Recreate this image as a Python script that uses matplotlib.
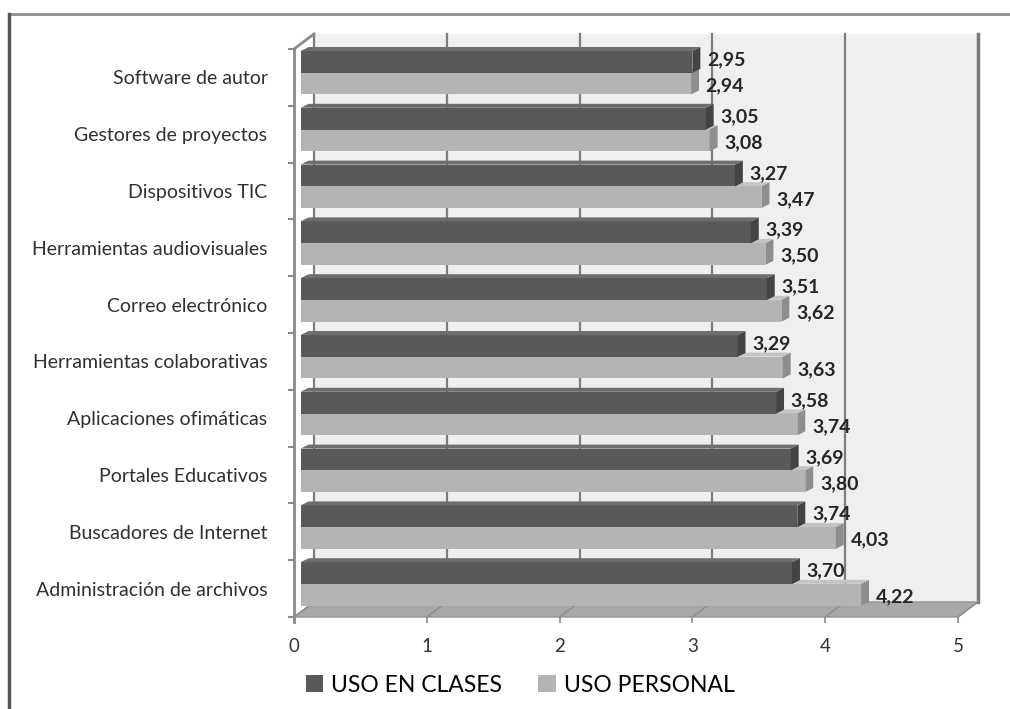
import numpy as np
import matplotlib.pyplot as plt
from matplotlib.patches import Polygon, Patch
from matplotlib.lines import Line2D

plt.rcParams['font.family'] = ['Lato', 'DejaVu Sans']

# data (top to bottom as in the chart)
categorias = ['Software de autor', 'Gestores de proyectos', 'Dispositivos TIC',
              'Herramientas audiovisuales', 'Correo electrónico',
              'Herramientas colaborativas', 'Aplicaciones ofimáticas',
              'Portales Educativos', 'Buscadores de Internet',
              'Administración de archivos']
uso_clases = [2.95, 3.05, 3.27, 3.39, 3.51, 3.29, 3.58, 3.69, 3.74, 3.70]
uso_personal = [2.94, 3.08, 3.47, 3.50, 3.62, 3.63, 3.74, 3.80, 4.03, 4.22]
series = ['USO EN CLASES', 'USO PERSONAL']
ticks_x = [0, 1, 2, 3, 4, 5]

OSCURO, OSCURO_LADO, OSCURO_TAPA = '#595959', '#444444', '#6e6e6e'
CLARO, CLARO_LADO, CLARO_TAPA = '#b4b4b4', '#8e8e8e', '#c4c4c4'
GRIS = '#8a8a8a'

# fake 3d offsets (data units)
FONDO_X, FONDO_Y = 0.15, 0.264
BAR_X = 0.05
LADO_X, LADO_Y = 0.06, 0.07
ALTO = 0.385


def caja(ax, y0, val, color, lado, tapa):
    ax.barh(y0, val, height=ALTO, left=BAR_X, align='edge', color=color,
            linewidth=0, zorder=5)
    x1 = BAR_X + val
    y1 = y0 + ALTO
    ax.add_patch(Polygon([(x1, y0), (x1 + LADO_X, y0 + LADO_Y),
                          (x1 + LADO_X, y1 + LADO_Y), (x1, y1)],
                         closed=True, facecolor=lado, lw=0, zorder=5, clip_on=False))
    ax.add_patch(Polygon([(BAR_X, y1), (BAR_X + LADO_X, y1 + LADO_Y),
                          (x1 + LADO_X, y1 + LADO_Y), (x1, y1)],
                         closed=True, facecolor=tapa, lw=0, zorder=5, clip_on=False))
    return x1 + LADO_X


def etiqueta(v):
    return ('%.2f' % v).replace('.', ',')


def main():
    fig = plt.figure(figsize=(10.10, 7.09), dpi=100)
    ax = fig.add_axes([294 / 1010, (709 - 617) / 709, 697 / 1010, 588 / 709])
    ax.set_xlim(0, 697 / 132.8)
    ax.set_ylim(-0.5, -0.5 + 588 / 56.8)
    ax.patch.set_visible(False)

    n = len(categorias)
    xmax = ticks_x[-1]
    ybot, ytop = -0.5, n - 0.5

    # back wall
    ax.add_patch(Polygon([(FONDO_X, ybot + FONDO_Y), (xmax + FONDO_X, ybot + FONDO_Y),
                          (xmax + FONDO_X, ytop + FONDO_Y), (FONDO_X, ytop + FONDO_Y)],
                         closed=True, facecolor='#efefef', lw=0, zorder=1, clip_on=False))
    for k in ticks_x[:-1]:
        ax.plot([k + FONDO_X] * 2, [ybot + FONDO_Y, ytop + FONDO_Y], color='#7d7d7d',
                lw=1.6, zorder=2, clip_on=False)
    ax.plot([xmax + FONDO_X] * 2, [ybot + FONDO_Y, ytop + FONDO_Y], color='#7a7a7a',
            lw=2.5, zorder=2, clip_on=False)

    # floor
    ax.add_patch(Polygon([(0, ybot), (xmax, ybot), (xmax + FONDO_X, ybot + FONDO_Y),
                          (FONDO_X, ybot + FONDO_Y)],
                         closed=True, facecolor='#a8a8a8', edgecolor='#939393', lw=1,
                         zorder=3, clip_on=False))
    for k in ticks_x:
        ax.plot([k, k + FONDO_X], [ybot, ybot + FONDO_Y], color='#8c8c8c', lw=1,
                zorder=3, clip_on=False)

    # left edge diagonal
    ax.plot([0, FONDO_X], [ytop, ytop + FONDO_Y], color=GRIS, lw=2, zorder=3, clip_on=False)

    # bars
    ys = np.arange(n)[::-1]
    for y, vc, vp in zip(ys, uso_clases, uso_personal):
        fin_p = caja(ax, y - 0.30, vp, CLARO, CLARO_LADO, CLARO_TAPA)
        fin_c = caja(ax, y + 0.08, vc, OSCURO, OSCURO_LADO, OSCURO_TAPA)
        ax.text(fin_c + 0.05, y + 0.08 + ALTO / 2 + 0.04, etiqueta(vc), ha='left',
                va='center', fontsize=14, fontweight='bold', color='#262626', zorder=6)
        ax.text(fin_p + 0.05, y - 0.30 + ALTO / 2 - 0.04, etiqueta(vp), ha='left',
                va='center', fontsize=14, fontweight='bold', color='#262626', zorder=6)

    # axes
    for s in ['top', 'right', 'bottom']:
        ax.spines[s].set_visible(False)
    ax.spines['left'].set_bounds(ybot - 0.08, ytop)
    ax.spines['left'].set_color(GRIS)
    ax.spines['left'].set_linewidth(2)
    ax.spines['left'].set_zorder(4)

    ax.set_xticks(ticks_x)
    ax.set_xticklabels([str(t) for t in ticks_x], fontsize=13.5, color='#333333')
    ax.tick_params(axis='x', length=4, width=1.2, color=GRIS, pad=11)

    ax.set_yticks(ys)
    ax.set_yticklabels(categorias, fontsize=14, color='#303030')
    ax.set_yticks(np.arange(n + 1) - 0.5, minor=True)
    ax.tick_params(axis='y', which='major', length=0, pad=19)
    ax.tick_params(axis='y', which='minor', length=4, width=1.5, color=GRIS)

    # legend
    handles = [Patch(facecolor=OSCURO), Patch(facecolor=CLARO)]
    fig.legend(handles, series, loc='center', bbox_to_anchor=(520 / 1010, 1 - 685 / 709),
               ncol=2, frameon=False, fontsize=16.5, handlelength=0.75, handleheight=0.75,
               handletextpad=0.35, columnspacing=1.6)

    # chart border
    fig.add_artist(Line2D([9 / 1010, 1], [1 - 14 / 709] * 2, transform=fig.transFigure,
                          color='#909090', lw=2))
    fig.add_artist(Line2D([9 / 1010] * 2, [0, 1 - 14 / 709], transform=fig.transFigure,
                          color='#555555', lw=2.5))

    fig.savefig('out.png', dpi=100)


if __name__ == "__main__":
    main()
